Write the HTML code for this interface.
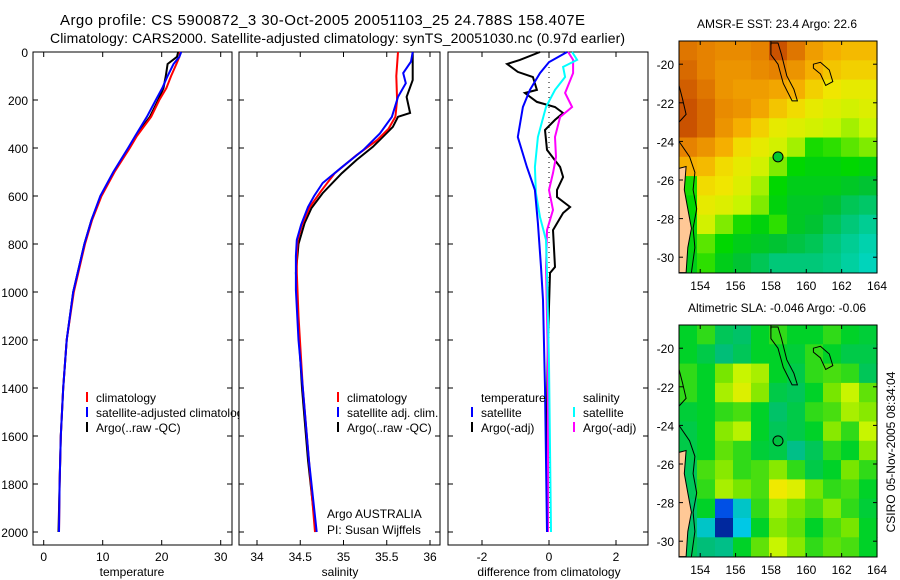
<!DOCTYPE html>
<html><head><meta charset="utf-8"><style>
html,body{margin:0;padding:0;background:#fff;}
svg{display:block;font-family:"Liberation Sans",sans-serif;}
</style></head><body>
<svg id="s" width="900" height="580" viewBox="0 0 900 580" xmlns="http://www.w3.org/2000/svg">
<rect width="900" height="580" fill="#fff"/>
<text x="60" y="25" font-size="15" textLength="525">Argo profile: CS 5900872_3 30-Oct-2005 20051103_25 24.788S 158.407E</text>
<text x="50" y="43" font-size="14" textLength="575">Climatology: CARS2000. Satellite-adjusted climatology: synTS_20051030.nc (0.97d earlier)</text>
<g id="g"></g>
</svg>
<script>
// ---- data ----
const depthTicks=[0,200,400,600,800,1000,1200,1400,1600,1800,2000];
const tempTicks=[0,10,20,30];
const salTicks=[34,34.5,35,35.5,36];
const salTickLabels=["34","34.5","35","35.5","36"];
const diffTicks=[-2,0,2];

const tempDepth=[0,20,50,100,150,200,270,350,400,500,600,700,800,1000,1200,1400,1600,1800,2000];
const climT=[23.1,23.0,22.5,21.6,20.8,19.6,18.2,15.8,14.6,12.0,9.8,8.2,7.0,5.1,3.9,3.3,2.9,2.7,2.6];
const satT=[23.3,23.0,22.0,21.0,20.1,19.0,17.5,15.5,14.3,11.8,9.6,8.1,6.9,5.0,3.9,3.3,2.9,2.7,2.6];
const argoT=[22.8,22.6,21.0,20.7,20.3,19.4,18.0,15.6,14.4,11.9,9.7,8.1,6.9,5.0,3.9,3.3,2.9,2.7,2.5];

const climSDepth=[0,100,200,270,320,367,430,505,580,646,720,783,850,920,1100,1400,1700,2000];
const climS=[35.63,35.61,35.62,35.60,35.52,35.39,35.15,34.90,34.74,34.61,34.52,34.47,34.46,34.46,34.48,34.53,34.60,34.67];
const satSDepth=[0,40,88,130,187,270,340,408,480,546,600,646,720,783,850,992,1200,1400,1700,2000];
const satS=[35.80,35.78,35.69,35.72,35.63,35.56,35.42,35.23,34.98,34.76,34.66,34.59,34.51,34.46,34.45,34.45,34.48,34.53,34.60,34.69];
const argoSDepth=[0,117,187,254,270,312,395,450,505,588,650,713,800,920,1100,1400,1700,2000];
const argoS=[35.80,35.80,35.73,35.77,35.63,35.57,35.34,35.15,34.98,34.76,34.63,34.55,34.48,34.45,34.47,34.52,34.59,34.68];

const dTsatDepth=[0,42,88,158,229,354,479,575,713,896,1033,1400,2000];
const dTsat=[0.54,0,-0.27,-0.57,-0.78,-0.93,-0.66,-0.42,-0.33,-0.24,-0.18,-0.12,-0.06];
const dTargoDepth=[0,33,50,83,104,158,171,208,229,254,283,325,408,479,521,575,604,646,671,742,896,921,1200,1500,2000];
const dTargo=[-0.27,-0.87,-1.25,-0.93,-0.48,-0.36,-0.72,-0.36,0.18,0.42,0.18,-0.12,-0.06,0.33,0.42,0.24,0.24,0.63,0.42,0.12,0.18,0.03,-0.03,-0.06,-0.06];
const dSsatDepth=[0,33,62,104,158,229,354,479,588,688,783,921,1300,2000];
const dSsat=[0.69,0.84,0.42,0.48,0.18,-0.09,-0.33,-0.42,-0.39,-0.27,-0.09,-0.06,0.0,0.06];
const dSargoDepth=[0,33,88,171,229,271,354,438,504,575,658,742,896,1300,2000];
const dSargo=[0.57,0.72,0.72,0.48,0.69,0.33,0.18,0.21,0.12,0.0,0.12,-0.06,-0.09,-0.03,-0.03];

const mapLonTicks=[154,156,158,160,162,164];
const mapLatTicks=[-20,-22,-24,-26,-28,-30];
const sstGrid=[
[24.6,24.5,24.4,24.4,24.5,24.9,24.6,24.2,24.0,23.9,23.9],
[24.7,24.5,24.3,24.3,24.4,24.5,24.3,24.0,23.8,23.7,23.7],
[24.8,24.6,24.3,24.2,24.2,24.1,24.0,23.7,23.5,23.4,23.4],
[24.9,24.7,24.4,24.3,24.1,23.8,23.6,23.4,23.3,23.2,23.3],
[24.9,24.7,24.3,24.0,23.7,23.4,23.3,23.2,23.1,23.0,23.1],
[24.5,24.3,24.0,23.6,23.4,23.2,23.0,22.5,22.6,22.8,22.9],
[24.0,23.9,23.6,23.4,23.2,22.9,22.4,22.3,22.3,22.4,22.3],
[22.5,23.6,23.5,23.3,23.0,22.4,22.2,22.2,22.2,22.1,22.0],
[22.4,23.4,23.3,23.1,22.9,22.3,22.1,22.1,22.0,21.8,21.7],
[22.3,23.2,22.9,22.5,22.3,22.6,22.1,22.0,21.8,21.6,21.4],
[22.3,22.8,22.4,22.2,22.1,22.0,21.9,21.8,21.6,21.4,21.2],
[22.2,22.6,22.2,22.0,21.8,21.6,21.6,21.6,21.5,21.3,21.1]];
const slaGrid=[
[0.0,0.02,-0.03,-0.04,0.0,0.02,0.0,0.0,0.02,0.0,-0.01],
[0.0,-0.02,-0.05,-0.03,0.0,0.0,-0.01,0.02,0.0,-0.02,-0.02],
[0.02,0.0,0.05,0.1,0.08,0.0,-0.02,0.02,0.03,0.02,-0.03],
[0.02,0.0,0.08,0.12,0.06,-0.02,-0.03,0.0,0.05,0.1,0.04],
[-0.01,0.0,0.02,0.03,0.0,-0.04,-0.02,0.02,0.03,0.08,0.06],
[-0.02,0.0,0.06,0.09,0.0,-0.03,-0.02,0.0,0.06,0.02,0.1],
[-0.02,0.0,0.04,0.02,-0.01,-0.02,-0.06,-0.03,0.02,0.0,0.06],
[-0.03,0.03,0.06,0.02,0.03,0.06,0.02,-0.02,0.0,0.05,0.02],
[-0.03,0.02,0.08,0.05,0.03,0.14,0.12,0.05,0.02,0.03,0.0],
[-0.04,0.0,-0.2,-0.1,0.02,0.08,0.05,0.03,0.06,0.02,-0.01],
[-0.04,-0.1,-0.28,-0.12,0.0,0.06,0.04,0.0,0.03,0.05,0.0],
[-0.03,-0.05,-0.06,0.0,0.04,0.1,0.06,0.02,0.04,0.03,0.0]];
const argoLon=158.4, argoLat=-24.8;
const landLon=[152.8,153.2,153.1,153.3,153.5,153.3,153.2,152.8];
const landLat=[-25.4,-25.3,-26.5,-27.5,-28.5,-29.5,-30.8,-30.8];
const coastLon=[152.8,153.0,153.2,152.8];
const coastLat=[-21.1,-21.8,-22.6,-23.0];
const shelfLon=[152.8,153.4,153.7,153.6,153.8,153.6,153.7,153.5];
const shelfLat=[-24.0,-24.8,-25.6,-26.5,-27.5,-28.5,-29.5,-30.8];
const reef1Lon=[158.0,158.4,158.6,158.9,159.3,159.5,159.2,158.7,158.4,158.0];
const reef1Lat=[-18.9,-18.9,-19.5,-20.6,-21.3,-21.9,-21.9,-21.0,-20.0,-19.5];
const reef2Lon=[160.4,160.8,161.3,161.5,161.1,160.8,160.4];
const reef2Lat=[-20.0,-19.9,-20.3,-20.9,-21.1,-20.5,-20.2];

// ---- helpers ----
const NS='http://www.w3.org/2000/svg';
const G=document.getElementById('g');
function mk(tag,attrs,parent){const e=document.createElementNS(NS,tag);for(const k in attrs)e.setAttribute(k,attrs[k]);(parent||G).appendChild(e);return e;}
const Y0=52,Y1=545;
const yD=d=>Y0+d*0.24;
const xT=t=>43.7+t*5.9;
const xS=s=>257+(s-34)*86.5;
const xDf=v=>549+v*33.5;
function line(ds,xs,fx,color,name,w){
  let p='';for(let i=0;i<xs.length;i++)p+=(i?'L':'M')+fx(xs[i]).toFixed(1)+','+yD(ds[i]).toFixed(1);
  const e=mk('path',{d:p,fill:'none',stroke:color,'stroke-width':w||2,'stroke-linejoin':'miter'});
  
  
}
function panel(x0,x1,xt,fx,labels,name,axisLabel,cx){
  const r=mk('rect',{x:x0,y:Y0,width:x1-x0,height:Y1-Y0,fill:'#fff',stroke:'#000','stroke-width':1});
  
  
  depthTicks.forEach(d=>{const y=yD(d);mk('line',{x1:x0,x2:x0+5,y1:y,y2:y,stroke:'#000'});mk('line',{x1:x1-5,x2:x1,y1:y,y2:y,stroke:'#000'});});
  xt.forEach((v,i)=>{const x=fx(v);mk('line',{x1:x,x2:x,y1:Y0,y2:Y0+5,stroke:'#000'});mk('line',{x1:x,x2:x,y1:Y1-5,y2:Y1,stroke:'#000'});
    const t=mk('text',{x:x,y:561,'font-size':12,'text-anchor':'middle'});t.textContent=labels[i];
    
    });
  const a=mk('text',{x:cx,y:576,'font-size':12,'text-anchor':'middle'});a.textContent=axisLabel;
  
  
}
function legend(x,y,color,label,nm){
  mk('line',{x1:x,x2:x,y1:y-10,y2:y,stroke:color,'stroke-width':2});
  const t=mk('text',{x:x+9,y:y,'font-size':12});t.textContent=label;
  
  
}
function txt(x,y,s,nm,anchor){const t=mk('text',{x:x,y:y,'font-size':12,'text-anchor':anchor||'start'});t.textContent=s;
  
  return t;}

// ---- panel 1 temperature ----
panel(33,232,tempTicks,xT,tempTicks.map(String),'temperature-panel','temperature',132);
depthTicks.forEach(d=>txt(28,yD(d)+5,String(d),'y-tick-label','end'));
line(tempDepth,argoT,xT,'#000','argo-temperature-line',2);
line(tempDepth,climT,xT,'#f00','climatology-temperature-line',2);
line(tempDepth,satT,xT,'#00f','satellite-temperature-line',2);
legend(87,402,'#f00','climatology','legend-climatology');
legend(87,417,'#00f','satellite-adjusted climatology','legend-satellite-adjusted');
legend(87,432,'#000','Argo(..raw -QC)','legend-argo');

// ---- panel 2 salinity ----
panel(239,440,salTicks,xS,salTickLabels,'salinity-panel','salinity',340);
line(argoSDepth,argoS,xS,'#000','argo-salinity-line',2);
line(climSDepth,climS,xS,'#f00','climatology-salinity-line',2);
line(satSDepth,satS,xS,'#00f','satellite-salinity-line',2);
legend(338,402,'#f00','climatology','legend-climatology-sal');
legend(338,417,'#00f','satellite adj. clim.','legend-satellite-sal');
legend(338,432,'#000','Argo(..raw -QC)','legend-argo-sal');
txt(327,518,'Argo AUSTRALIA','argo-australia-label');
txt(327,534,'PI: Susan Wijffels','pi-label');

// ---- panel 3 difference ----
panel(448,648,diffTicks,xDf,diffTicks.map(String),'difference-panel','difference from climatology',549);
mk('line',{x1:xDf(0),x2:xDf(0),y1:Y0,y2:yD(2000),stroke:'#000','stroke-width':1,'stroke-dasharray':'1,4'});
line(dTargoDepth,dTargo,xDf,'#000','argo-temp-diff-line',2);
line(dSargoDepth,dSargo,xDf,'#f0f','argo-sal-diff-line',2);
line(dSsatDepth,dSsat,xDf,'#0ff','satellite-sal-diff-line',2);
line(dTsatDepth,dTsat,xDf,'#00f','satellite-temp-diff-line',2);
txt(481,402,'temperature','legend-temperature-header');
legend(472,417,'#00f','satellite','legend-temp-satellite');
legend(472,432,'#000','Argo(-adj)','legend-temp-argo');
txt(583,402,'salinity','legend-salinity-header');
legend(574,417,'#0ff','satellite','legend-sal-satellite');
legend(574,432,'#f0f','Argo(-adj)','legend-sal-argo');

// ---- maps ----
function lerpColor(stops,v){
  if(v<=stops[0][0])return stops[0][1];
  for(let i=1;i<stops.length;i++){if(v<=stops[i][0]){const a=stops[i-1],b=stops[i];const f=(v-a[0])/(b[0]-a[0]);
    const c=a[1].map((c0,k)=>Math.round(c0+(b[1][k]-c0)*f));return c;}}
  return stops[stops.length-1][1];
}
const sstStops=[[21.0,[0,215,200]],[21.6,[0,200,120]],[22.0,[0,195,50]],[22.4,[0,215,0]],[22.8,[90,230,0]],[23.1,[200,245,0]],[23.5,[240,230,0]],[24.0,[245,175,0]],[24.5,[230,130,0]],[25.0,[195,70,0]]];
const slaStops=[[-0.3,[0,30,140]],[-0.2,[0,80,230]],[-0.12,[0,200,230]],[-0.05,[0,190,120]],[0.0,[0,210,40]],[0.05,[120,230,0]],[0.1,[200,245,0]],[0.15,[250,230,0]]];
function map(top,grid,stops,title,name,fill){
  const L=679,R=877,lon0=152.8,lon1=164;
  const px=lon=>L+(lon-lon0)*(R-L)/(lon1-lon0);
  const py=lat=>top+23.2+(-20-lat)*19.3;
  const g=mk('g',{});
  
  
  const nr=grid.length,nc=grid[0].length,cw=(lon1-lon0)/nc;
  for(let r=0;r<nr;r++)for(let c=0;c<nc;c++){
    const col=lerpColor(stops,grid[r][c]);
    const x=px(lon0+c*cw),y=py(-18.8-r);
    const e=mk('rect',{x:x.toFixed(1),y:y.toFixed(1),width:(px(lon0+(c+1)*cw)-x+0.6).toFixed(1),height:(py(-19.8-r)-y+0.6).toFixed(1),fill:'rgb('+col.join(',')+')'},g);
    
    
  }
  const poly=(lons,lats,close)=>lons.map((v,i)=>(i?'L':'M')+px(v).toFixed(1)+','+py(lats[i]).toFixed(1)).join('')+(close?'Z':'');
  const land=mk('path',{d:poly(landLon,landLat,true),fill:'#ffc896',stroke:'#000','stroke-width':1},g);
  
  
  [[coastLon,coastLat,false],[shelfLon,shelfLat,false],[reef1Lon,reef1Lat,true],[reef2Lon,reef2Lat,true]].forEach(a=>{
    const e=mk('path',{d:poly(a[0],a[1],a[2]),fill:'none',stroke:'#000','stroke-width':1},g);
    
    
  });
  const m=mk('circle',{cx:px(argoLon),cy:py(argoLat),r:5,fill:fill,stroke:'#000','stroke-width':1},g);
  
  
  mk('rect',{x:L,y:top,width:R-L,height:232,fill:'none',stroke:'#000'},g);
  mapLonTicks.forEach(v=>{const x=px(v);mk('line',{x1:x,x2:x,y1:top,y2:top+4,stroke:'#000'},g);mk('line',{x1:x,x2:x,y1:top+228,y2:top+232,stroke:'#000'},g);
    txt(x,top+249,String(v),'map-lon-label','middle');});
  mapLatTicks.forEach(v=>{const y=py(v);mk('line',{x1:L,x2:L+4,y1:y,y2:y,stroke:'#000'},g);mk('line',{x1:R-4,x2:R,y1:y,y2:y,stroke:'#000'},g);
    txt(674,y+5,String(v),'map-lat-label','end');});
  txt(777,top-13,title,name+'-title','middle');
}
map(41,sstGrid,sstStops,'AMSR-E SST: 23.4  Argo: 22.6','sst-map','#00c830');
map(325,slaGrid,slaStops,'Altimetric SLA: -0.046  Argo: -0.06','sla-map','#00c040');
const st=txt(0,0,'CSIRO 05-Nov-2005 08:34:04','timestamp-label','middle');
st.setAttribute('transform','translate(895,452) rotate(-90)');
</script>
</body></html>
